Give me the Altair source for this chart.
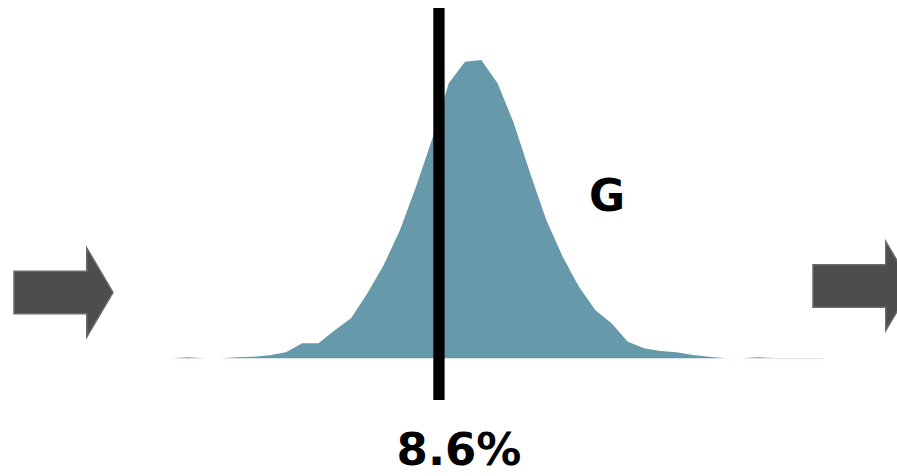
import altair as alt
import pandas as pd

# Distribution (bin centre, density height)
bin_centres = [4.5, 4.75, 5.0, 5.25, 5.5, 5.75, 6.0, 6.25, 6.5, 6.75,
               7.0, 7.25, 7.5, 7.75, 8.0, 8.25, 8.5, 8.75, 9.0, 9.25,
               9.5, 9.75, 10.0, 10.25, 10.5, 10.75, 11.0, 11.25, 11.5, 11.75,
               12.0, 12.25, 12.5, 12.75, 13.0, 13.25, 13.5, 13.75, 14.0, 14.25,
               14.5]
density = [0, 1, 0, 0, 1, 1.5, 3, 6, 15, 15,
           28, 40, 65, 93, 128, 172, 220, 275, 296.6, 298.3,
           275, 235, 185, 138, 101.6, 71.6, 48.3, 35, 16.6, 10,
           7.3, 6, 3.3, 1.6, 0, 0, 1, 0.3, 0.3, 0.3,
           0.3]
marker_value = [8.6]
marker_label = ["8.6%"]
group_label = ["G"]
arrow_names = ["in", "out"]

W, H = 897, 476
x_scale = alt.Scale(domain=[1.859, 15.634], nice=False, zero=False)
y_scale = alt.Scale(domain=[-117.7, 358.3], nice=False, zero=False)

dist = pd.DataFrame({"x": bin_centres, "d": density})

area = alt.Chart(dist).mark_area(color="#6699AA", interpolate="linear", opacity=1).encode(
    x=alt.X("x:Q", scale=x_scale, axis=None),
    y=alt.Y("d:Q", scale=y_scale, axis=None),
)

rule = alt.Chart(pd.DataFrame({"v": marker_value})).mark_rule(
    color="black", strokeWidth=11.3
).encode(
    x=alt.X("v:Q", scale=x_scale, axis=None),
    y=alt.value(8),
    y2=alt.value(400),
)

pct_text = alt.Chart(pd.DataFrame({"t": marker_label})).mark_text(
    font="DejaVu Sans", fontWeight="bold", fontSize=45, align="center",
    baseline="alphabetic", color="black"
).encode(
    text="t:N",
    x=alt.value(459),
    y=alt.value(465),
)

g_text = alt.Chart(pd.DataFrame({"t": group_label})).mark_text(
    font="DejaVu Sans", fontWeight="bold", fontSize=44, align="center",
    baseline="alphabetic", color="black"
).encode(
    text="t:N",
    x=alt.value(607),
    y=alt.value(211),
)

arrow_path = "M -1 -0.43 L 0.47 -0.43 L 0.47 -0.9 L 1 0 L 0.47 0.9 L 0.47 0.43 L -1 0.43 Z"

def arrow(name, px, py):
    return alt.Chart(pd.DataFrame({"n": [name]})).mark_point(
        shape=arrow_path, filled=True, fill="#4d4d4d", stroke="#6b6b6b",
        strokeWidth=1.5, size=9801, opacity=1
    ).encode(
        x=alt.value(px),
        y=alt.value(py),
    )

chart = alt.layer(
    area, rule, pct_text, g_text,
    arrow(arrow_names[0], 63.5, 292.5),
    arrow(arrow_names[1], 862.5, 286),
).properties(
    width=W, height=H, padding=0, autosize=alt.AutoSizeParams(type="none")
).configure_view(stroke=None)

chart.save("out.html", embed_options={"renderer": "svg", "actions": False})
